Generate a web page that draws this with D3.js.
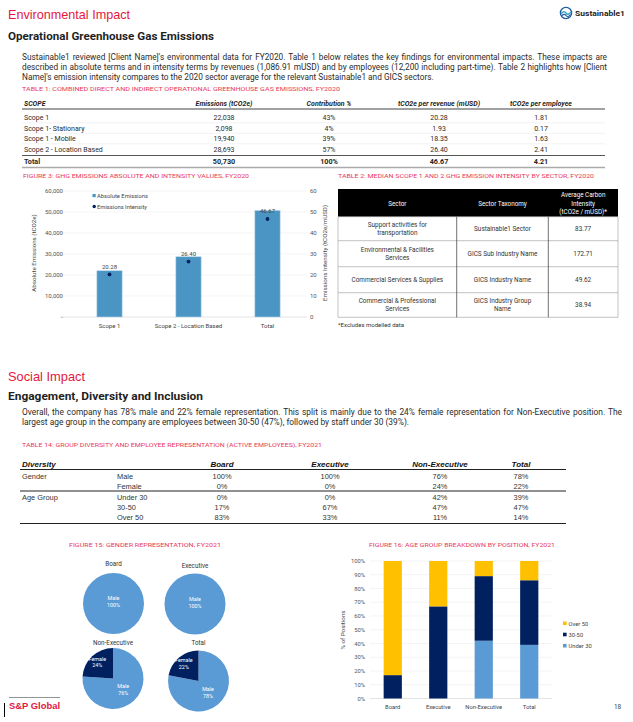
<!DOCTYPE html>
<html><head><meta charset="utf-8">
<script src="https://cdn.jsdelivr.net/npm/d3@7"></script>
<style>body{margin:0;background:#fff}svg{display:block}</style>
</head><body><svg id="c" width="633" height="722"></svg>
<script>
// ---------- DATA ----------
const t1Scopes = ["Scope 1", "Scope 1- Stationary", "Scope 1 - Mobile", " Scope 2 - Location Based"];
const t1Emissions = ["22,038", "2,098", "19,940", "28,693"];
const t1Contribution = ["43%", "4%", "39%", "57%"];
const t1PerRevenue = ["20.28", "1.93", "18.35", "26.40"];
const t1PerEmployee = ["1.81", "0.17", "1.63", "2.41"];
const t1Total = ["Total", "50,730", "100%", "46.67", "4.21"];
const t1Headers = ["SCOPE", "Emissions (tCO2e)", "Contribution %", "tCO2e per revenue (mUSD)", "tCO2e per employee"];

const fig3Categories = ["Scope 1", "Scope 2 - Location Based", "Total"];
const fig3Absolute = [22038, 28693, 50730];
const fig3Intensity = [20.28, 26.40, 46.67];
const fig3LeftTicks = [0, 10000, 20000, 30000, 40000, 50000, 60000];
const fig3RightTicks = [0, 10, 20, 30, 40, 50, 60];

const t2Sectors = [["Support activities for", "transportation"], ["Environmental & Facilities", "Services"], ["Commercial Services & Supplies"], ["Commercial  & Professional", "Services"]];
const t2Taxonomy = [["Sustainable1 Sector"], ["GICS Sub Industry Name"], ["GICS Industry Name"], ["GICS Industry Group", "Name"]];
const t2Intensity = ["83.77", "172.71", "49.62", "38.94"];

const t14Positions = ["Board", "Executive", "Non-Executive", "Total"];
const t14Male = ["100%", "100%", "76%", "78%"];
const t14Female = ["0%", "0%", "24%", "22%"];
const t14Under30 = ["0%", "0%", "42%", "39%"];
const t14Mid = ["17%", "67%", "47%", "47%"];
const t14Over50 = ["83%", "33%", "11%", "14%"];

const genderPositions = ["Board", "Executive", "Non-Executive", "Total"];
const genderMale = [100, 100, 76, 78];
const genderFemale = [0, 0, 24, 22];

const agePositions = ["Board", "Executive", "Non-Executive", "Total"];
const ageUnder30 = [0, 0, 42, 39];
const age30to50 = [17, 67, 47, 47];
const ageOver50 = [83, 33, 11, 14];
const ageTicks = [0, 10, 20, 30, 40, 50, 60, 70, 80, 90, 100];

// ---------- STYLE ----------
const RED = "#e3173e", CAP = "#e8375a", DARK = "#1f1f1f", TXT = "#2b2b2b";
const NAVY = "#002060", LBLUE = "#5b9bd5", GOLD = "#ffc000", BAR3 = "#4a95c4";
const SANS = "Roboto, 'Liberation Sans', Arial, sans-serif";
const ARIAL = "'Liberation Sans', Arial, sans-serif";

const svg = d3.select("#c");
svg.append("rect").attr("width", 633).attr("height", 722).attr("fill", "#fff");

function txt(g, x, y, s, o = {}) {
  const t = g.append("text").attr("x", x).attr("y", y).text(s)
    .attr("font-family", o.ff || SANS).attr("font-size", o.fs || 7)
    .attr("fill", o.fill || TXT).attr("text-anchor", o.anchor || "start");
  if (o.fw) t.attr("font-weight", o.fw);
  if (o.style) t.attr("font-style", o.style);
  if (o.tl) t.attr("textLength", o.tl).attr("lengthAdjust", "spacingAndGlyphs");
  if (o.rot) t.attr("transform", `rotate(${o.rot},${x},${y})`);
  return t;
}
function line(g, x1, y1, x2, y2, c, w) {
  g.append("line").attr("x1", x1).attr("y1", y1).attr("x2", x2).attr("y2", y2)
    .attr("stroke", c).attr("stroke-width", w);
}
// justified paragraph: font size fitted to first line, last line natural
function para(lines, x, y0, lh, width) {
  const probe = txt(svg, x, y0, lines[0], {fs: 10});
  const w10 = probe.node().getComputedTextLength();
  probe.remove();
  const fs = 10 * width / w10 * 0.97;
  lines.forEach((s, i) => {
    const t = txt(svg, x, y0 + i * lh, s, {fs: fs, fill: TXT});
    if (i < lines.length - 1) {
      const nat = t.node().getComputedTextLength();
      const spaces = (s.match(/ /g) || []).length;
      t.attr("word-spacing", (width - nat) / spaces);
    }
  });
}

// ---------- HEADER ----------
txt(svg, 8, 19, "Environmental Impact", {fs: 13.5, fill: RED, ff: ARIAL, tl: 122});
const logo = svg.append("g").attr("transform", "translate(566,13)");
logo.append("circle").attr("r", 5.6).attr("fill", "none").attr("stroke", "#1d5a9c").attr("stroke-width", 1.3);
logo.append("path").attr("d", "M-5,1 Q-2,-3 0,0 T5,-1").attr("fill", "none").attr("stroke", "#3aa7c9").attr("stroke-width", 1.4);
logo.append("path").attr("d", "M-4.5,3 Q-2,0 0,2.5 T4.5,1.5").attr("fill", "none").attr("stroke", "#1d5a9c").attr("stroke-width", 1.1);
txt(svg, 575, 16, "Sustainable1", {fs: 7.6, fw: "bold", fill: DARK, tl: 50});

txt(svg, 8, 40, "Operational Greenhouse Gas Emissions", {fs: 11.5, fw: "bold", fill: DARK, tl: 206});
para([
  "Sustainable1 reviewed [Client Name]'s environmental data for FY2020. Table 1 below relates the key findings for environmental impacts. These impacts are",
  "described in absolute terms and in intensity terms by revenues (1,086.91 mUSD) and by employees (12,200 including part-time). Table 2 highlights how [Client",
  "Name]'s emission intensity compares to the 2020 sector average for the relevant Sustainable1 and GICS sectors."], 22, 60, 10, 585);
txt(svg, 22, 91, "TABLE 1: COMBINED DIRECT AND INDIRECT OPERATIONAL GREENHOUSE GAS EMISSIONS, FY2020", {fs: 6, fill: CAP, tl: 318});

// ---------- TABLE 1 ----------
const t1 = svg.append("g");
const t1x = [24, 224, 329, 439, 541];
t1Headers.forEach((h, i) => txt(t1, t1x[i], 106, h, {fs: 7, fw: "bold", style: "italic", anchor: i ? "middle" : "start", fill: DARK}));
line(t1, 22, 109, 605, 109, "#444", 1.1);
const t1rowsY = [120, 130.5, 141, 151.5];
t1Scopes.forEach((s, i) => {
  const y = t1rowsY[i];
  txt(t1, 24, y, s, {fs: 7, fill: TXT});
  [t1Emissions[i], t1Contribution[i], t1PerRevenue[i], t1PerEmployee[i]].forEach((v, j) => txt(t1, t1x[j + 1], y, v, {fs: 7, anchor: "middle"}));
  if (i < 3) line(t1, 22, y + 2.8, 605, y + 2.8, "#e4e4e4", 0.5);
});
line(t1, 22, 155.5, 605, 155.5, "#555", 1.2);
t1Total.forEach((v, j) => txt(t1, t1x[j], 164, v, {fs: 7.2, fw: "bold", anchor: j ? "middle" : "start", fill: DARK}));
line(t1, 22, 167.5, 605, 167.5, "#aaa", 1.4);

// ---------- FIGURE 3 ----------
txt(svg, 23, 177.5, "FIGURE 3: GHG EMISSIONS ABSOLUTE AND INTENSITY VALUES, FY2020", {fs: 6, fill: CAP, tl: 226});
const f3 = svg.append("g");
const x3 = d3.scaleBand().domain(fig3Categories).range([70, 307]).paddingInner(0.68).paddingOuter(0.34);
const yL = d3.scaleLinear().domain([0, 60000]).range([317, 191]);
const yR = d3.scaleLinear().domain([0, 60]).range([317, 191]);
fig3LeftTicks.forEach(t => {
  line(f3, 60, yL(t), 307, yL(t), t === 0 ? "#d0d0d0" : "#ececec", 0.6);
  txt(f3, 63, yL(t) + 2.2, t === 0 ? "-" : d3.format(",")(t), {fs: 6, anchor: "end", fill: "#555"});
});
fig3RightTicks.forEach(t => txt(f3, 310, yR(t) + 2.2, String(t), {fs: 6, fill: "#555"}));
f3.selectAll("rect.b").data(fig3Absolute).join("rect").attr("class", "b")
  .attr("x", (d, i) => x3(fig3Categories[i])).attr("width", x3.bandwidth())
  .attr("y", d => yL(d)).attr("height", d => yL(0) - yL(d))
  .attr("fill", BAR3).attr("stroke", "#b9d6ea").attr("stroke-width", 0.6);
f3.selectAll("circle.d").data(fig3Intensity).join("circle").attr("class", "d")
  .attr("cx", (d, i) => x3(fig3Categories[i]) + x3.bandwidth() / 2).attr("cy", d => yR(d)).attr("r", 1.9).attr("fill", NAVY);
fig3Intensity.forEach((d, i) => txt(f3, x3(fig3Categories[i]) + x3.bandwidth() / 2, yR(d) - 5.5, d.toFixed(2), {fs: 6, anchor: "middle", fill: "#444"}));
fig3Categories.forEach(c => txt(f3, x3(c) + x3.bandwidth() / 2, 328, c, {fs: 6, anchor: "middle", fill: "#444"}));
txt(f3, 36, 253, "Absolute Emissions (tCO2e)", {fs: 6.2, anchor: "middle", rot: -90, fill: "#444"});
txt(f3, 327, 253, "Emissions  Intensity (tCO2e/mUSD)", {fs: 6.2, anchor: "middle", rot: -90, fill: "#444"});
f3.append("rect").attr("x", 92.5).attr("y", 194).attr("width", 3.2).attr("height", 3.2).attr("fill", BAR3);
txt(f3, 97, 197.8, "Absolute Emissions", {fs: 5.8, fill: "#444"});
f3.append("circle").attr("cx", 94.2).attr("cy", 206.5).attr("r", 1.7).attr("fill", NAVY);
txt(f3, 97, 208.7, "Emissions Intensity", {fs: 5.8, fill: "#444"});

// ---------- TABLE 2 ----------
txt(svg, 338, 177.5, "TABLE 2: MEDIAN SCOPE 1 AND 2 GHG EMISSION INTENSITY BY SECTOR, FY2020", {fs: 6, fill: CAP, tl: 256});
const t2 = svg.append("g");
const c2 = [338, 456.7, 548.3, 618];
const r2 = [189, 216.7, 240.7, 266.7, 292.7, 317.3];
t2.append("rect").attr("x", c2[0]).attr("y", r2[0]).attr("width", c2[3] - c2[0]).attr("height", r2[1] - r2[0]).attr("fill", "#000");
txt(t2, (c2[0] + c2[1]) / 2, 205.5, "Sector", {fs: 6.3, anchor: "middle", fill: "#fff"});
txt(t2, (c2[1] + c2[2]) / 2, 205.5, "Sector Taxonomy", {fs: 6.3, anchor: "middle", fill: "#fff"});
["Average Carbon", "Intensity", "(tCO2e / mUSD)*"].forEach((s, i) => txt(t2, (c2[2] + c2[3]) / 2, 197.3 + i * 8.4, s, {fs: 6.3, anchor: "middle", fill: "#fff"}));
for (let i = 1; i < r2.length; i++) line(t2, c2[0], r2[i], c2[3], r2[i], "#9a9a9a", 0.6);
[0, 3].forEach(k => line(t2, c2[k], r2[1], c2[k], r2[5], "#9a9a9a", 0.6));
[1, 2].forEach(k => line(t2, c2[k], r2[1], c2[k], r2[5], "#333", 0.7));
function multi(g, cx, cy, lines, fs) {
  const lh = 8.4, y0 = cy - (lines.length - 1) * lh / 2 + 2.2;
  lines.forEach((s, i) => txt(g, cx, y0 + i * lh, s, {fs: fs, anchor: "middle", fill: "#333"}));
}
t2Sectors.forEach((s, i) => {
  const cy = (r2[i + 1] + r2[i + 2]) / 2;
  multi(t2, (c2[0] + c2[1]) / 2, cy, s, 6.4);
  multi(t2, (c2[1] + c2[2]) / 2, cy, t2Taxonomy[i], 6.4);
  multi(t2, (c2[2] + c2[3]) / 2, cy, [t2Intensity[i]], 6.4);
});
txt(svg, 338, 327, "*Excludes modelled data", {fs: 6, fill: "#333"});

// ---------- SOCIAL ----------
txt(svg, 8, 381, "Social Impact", {fs: 13.5, fill: RED, ff: ARIAL, tl: 77});
txt(svg, 8, 400, "Engagement, Diversity and Inclusion", {fs: 11.5, fw: "bold", fill: DARK, tl: 195});
para([
  "Overall, the company has 78% male and 22% female representation. This split is mainly due to the 24% female representation for Non-Executive position. The",
  "largest age group in the company are employees between 30-50 (47%), followed by staff under 30 (39%)."], 22, 415, 10, 600);
txt(svg, 22, 447, "TABLE 14: GROUP DIVERSITY AND EMPLOYEE REPRESENTATION (ACTIVE EMPLOYEES), FY2021", {fs: 6, fill: CAP, tl: 300});

// ---------- TABLE 14 ----------
const t14 = svg.append("g");
const c14 = [22, 117, 222, 330, 440, 521];
txt(t14, c14[0], 467, "Diversity", {fs: 8, fw: "bold", style: "italic", ff: ARIAL, fill: "#111"});
t14Positions.forEach((p, i) => txt(t14, c14[i + 2], 467, p, {fs: 8, fw: "bold", style: "italic", ff: ARIAL, anchor: "middle", fill: "#111"}));
line(t14, 20, 469.5, 566, 469.5, "#222", 1.2);
const rowsG = [["Gender", "Male", t14Male, 478.5], [null, "Female", t14Female, 488.5],
  ["Age Group", "Under 30", t14Under30, 499.5], [null, "30-50", t14Mid, 509.5], [null, "Over 50", t14Over50, 520]];
rowsG.forEach(r => {
  if (r[0]) txt(t14, c14[0], r[3], r[0], {fs: 7.4, ff: ARIAL, fill: "#333"});
  txt(t14, c14[1], r[3], r[1], {fs: 7.4, ff: ARIAL, fill: "#333"});
  r[2].forEach((v, i) => txt(t14, c14[i + 2], r[3], v, {fs: 7.4, ff: ARIAL, anchor: "middle", fill: "#333"}));
});
line(t14, 20, 491, 566, 491, "#222", 1.2);
line(t14, 20, 523.5, 566, 523.5, "#222", 1.2);

// ---------- FIGURE 15 (pies) ----------
txt(svg, 145, 546.5, "FIGURE 15: GENDER REPRESENTATION, FY2021", {fs: 6, fill: CAP, anchor: "middle", tl: 152});
const pieCenters = [[113.5, 603.5], [195, 604], [113, 678.5], [198.5, 681]];
const titleY = [566, 568, 644.5, 644.5];
const pie = d3.pie().sort(null).value(d => d.v);
const arc = d3.arc().innerRadius(0).outerRadius(30.5);
const pg = svg.append("g");
genderPositions.forEach((p, k) => {
  const [cx, cy] = pieCenters[k];
  txt(pg, cx, titleY[k], p, {fs: 6.3, anchor: "middle", fill: "#333"});
  const g = pg.append("g").attr("transform", `translate(${cx},${cy})`);
  const data = pie([{n: "Male", v: genderMale[k], c: LBLUE}, {n: "Female", v: genderFemale[k], c: NAVY}]);
  g.selectAll("path").data(data.filter(d => d.data.v > 0)).join("path").attr("d", arc).attr("fill", d => d.data.c);
  data.filter(d => d.data.v > 0).forEach(d => {
    let lx, ly;
    if (d.data.v === 100) { lx = 0; ly = -2; }
    else {
      const a = (d.startAngle + d.endAngle) / 2, rr = d.data.n === "Female" ? 23 : 15;
      lx = Math.sin(a) * rr; ly = -Math.cos(a) * rr;
    }
    txt(g, lx, ly - 1.2, d.data.n, {fs: 5.4, anchor: "middle", fill: "#fff"});
    txt(g, lx, ly + 5.6, d.data.v + "%", {fs: 5.4, anchor: "middle", fill: "#fff"});
  });
});

// ---------- FIGURE 16 ----------
txt(svg, 462, 546.5, "FIGURE 16: AGE GROUP BREAKDOWN BY POSITION, FY2021", {fs: 6, fill: CAP, anchor: "middle", tl: 186});
const f16 = svg.append("g");
const x16 = d3.scaleBand().domain(agePositions).range([370, 552]).paddingInner(0.6).paddingOuter(0.3);
const y16 = d3.scaleLinear().domain([0, 100]).range([698.5, 561]);
ageTicks.forEach(t => {
  line(f16, 370, y16(t), 552, y16(t), t === 0 ? "#d0d0d0" : "#ececec", 0.6);
  txt(f16, 365, y16(t) + 2.1, t + "%", {fs: 5.8, anchor: "end", fill: "#555"});
});
const stackData = agePositions.map((p, i) => ({p, u: ageUnder30[i], m: age30to50[i], o: ageOver50[i]}));
const series = d3.stack().keys(["u", "m", "o"])(stackData);
const cols = {u: LBLUE, m: NAVY, o: GOLD};
series.forEach(s => {
  f16.selectAll(null).data(s).join("rect")
    .attr("x", d => x16(d.data.p)).attr("width", x16.bandwidth())
    .attr("y", d => y16(d[1])).attr("height", d => y16(d[0]) - y16(d[1]))
    .attr("fill", cols[s.key]);
});
agePositions.forEach(p => txt(f16, x16(p) + x16.bandwidth() / 2, 709, p, {fs: 5.8, anchor: "middle", fill: "#444"}));
txt(f16, 344.5, 630, "% of Positions", {fs: 6.2, anchor: "middle", rot: -90, fill: "#444"});
[["Over 50", GOLD, 623.5], ["30-50", NAVY, 634.7], ["Under 30", LBLUE, 645.9]].forEach(([n, c, y]) => {
  f16.append("rect").attr("x", 563).attr("y", y - 2).attr("width", 3.6).attr("height", 3.6).attr("fill", c);
  txt(f16, 568.5, y + 2, n, {fs: 5.8, fill: "#444"});
});

// ---------- FOOTER ----------
line(svg, 9, 697.5, 60, 697.5, "#888", 0.9);
txt(svg, 9, 708.5, "S&P Global", {fs: 9.2, fw: "bold", fill: RED, ff: ARIAL, tl: 51});
line(svg, 4.5, 703, 4.5, 717, "#000", 1);
txt(svg, 617.5, 709, "18", {fs: 6.4, anchor: "middle", fill: "#444"});
</script></body></html>
